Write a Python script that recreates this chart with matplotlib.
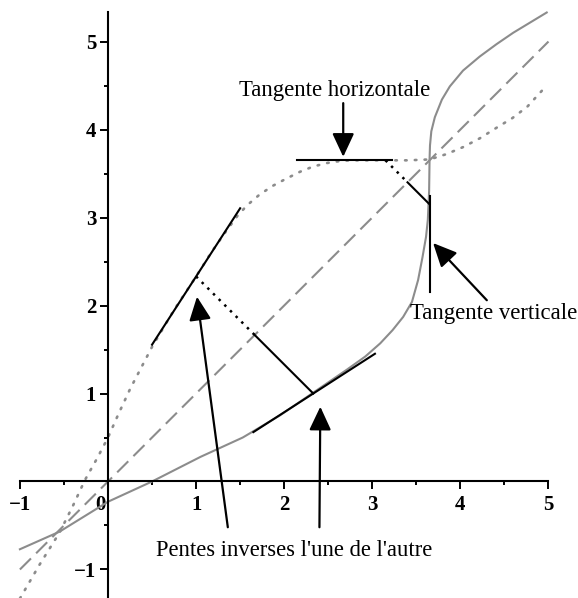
import numpy as np
import matplotlib
matplotlib.use("Agg")
import matplotlib.pyplot as plt
from matplotlib.transforms import ScaledTranslation

plt.rcParams['font.family'] = ['Liberation Serif', 'DejaVu Serif']

# f (dotted curve)
f_x = [-1.0, -0.78, -0.55, -0.4, -0.26, -0.12, 0.0, 0.12, 0.25, 0.38, 0.5, 0.75, 1.0,
       1.17, 1.33, 1.47, 1.58, 1.72, 1.87, 2.02, 2.18, 2.33, 2.49, 2.62, 2.75, 2.95,
       3.15, 3.4, 3.65, 3.84, 4.03, 4.22, 4.41, 4.59, 4.76, 4.97]
f_y = [-1.33, -0.95, -0.58, -0.28, 0.02, 0.27, 0.5, 0.77, 1.05, 1.3, 1.53, 1.95, 2.33,
       2.6, 2.83, 3.02, 3.14, 3.26, 3.36, 3.44, 3.52, 3.58, 3.62, 3.64, 3.65, 3.65,
       3.65, 3.65, 3.66, 3.72, 3.8, 3.9, 4.02, 4.13, 4.26, 4.49]

# f^-1 (solid curve)
g_x = [-1.0, -0.55, 0.0, 0.5, 1.05, 1.53, 1.95, 2.33, 2.71, 2.92, 3.09, 3.23, 3.35,
       3.45, 3.52, 3.57, 3.61, 3.63, 3.645, 3.65, 3.655, 3.67, 3.71, 3.79, 3.88,
       4.03, 4.22, 4.41, 4.6, 4.98]
g_y = [-0.77, -0.57, -0.23, 0.0, 0.28, 0.5, 0.75, 1.01, 1.27, 1.42, 1.57, 1.72, 1.87,
       2.04, 2.29, 2.55, 2.78, 2.97, 3.3, 3.66, 3.82, 3.98, 4.14, 4.34, 4.49,
       4.67, 4.83, 4.97, 5.1, 5.33]

diag = [-1, 5]

# tangent points on f, slopes and drawn extents
tan_pt = [(1.0, 2.33), (3.15, 3.65)]
tan_slope = [1.55, 0.0]
tan_span_f = [(0.5, 1.5), (2.15, 3.22)]      # x-range of tangent on f
tan_span_g = [(1.65, 3.03), (2.15, 3.24)]    # x-range (y-range if vertical) on f^-1

x_major = [-1, 0, 1, 2, 3, 4, 5]
x_minor = [-0.5, 0.5, 1.5, 2.5, 3.5, 4.5]
y_major = [-1, 1, 2, 3, 4, 5]
y_minor = [-0.5, 0.5, 1.5, 2.5, 3.5, 4.5]
x_labels = ['\u22121', '0', '1', '2', '3', '4', '5']
y_labels = ['\u22121', '1', '2', '3', '4', '5']

GRAY = '#8c8c8c'

fig = plt.figure(figsize=(5.78, 5.98), dpi=100)
ax = fig.add_axes([0, 0, 1, 1])
ax.set_xlim(-1.226, 5.335)
ax.set_ylim(-1.324, 5.472)

# curves
ax.plot(f_x, f_y, color=GRAY, lw=1.9, linestyle=(0, (0.6, 3.1)), dash_capstyle='round')
ax.plot(g_x, g_y, color=GRAY, lw=1.5, solid_joinstyle='round')
ax.plot(diag, diag, color=GRAY, lw=1.5, linestyle=(0, (7.5, 3.5)))

# tangents and perpendiculars
for (a, b), m, sf, sg in zip(tan_pt, tan_slope, tan_span_f, tan_span_g):
    xs = np.array(sf)
    ax.plot(xs, b + m * (xs - a), color='black', lw=1.5)
    if m == 0:
        ys = np.array(sg)
        ax.plot([b, b], ys, color='black', lw=1.5)
    else:
        xs = np.array(sg)
        ax.plot(xs, a + (xs - b) / m, color='black', lw=1.5)
    mid = (a + b) / 2
    ax.plot([a, mid], [b, mid], color='black', lw=1.8, linestyle=(0, (1, 2.2)))
    ax.plot([mid, b], [mid, a], color='black', lw=1.5)

# axes through origin
for side in ['top', 'right']:
    ax.spines[side].set_visible(False)
ax.spines['left'].set_position(('data', 0))
ax.spines['bottom'].set_position(('data', 0))
ax.spines['left'].set_bounds(-1.324, 5.33)
ax.spines['bottom'].set_bounds(-1, 5)
for side in ['left', 'bottom']:
    ax.spines[side].set_linewidth(1.5)
ax.set_xticks(x_major)
ax.set_xticks(x_minor, minor=True)
ax.set_yticks(y_major)
ax.set_yticks(y_minor, minor=True)
ax.set_xticklabels(x_labels)
ax.set_yticklabels(y_labels)
ax.tick_params(which='major', direction='out', length=5.5, width=1.4,
               labelsize=15, pad=3)
ax.tick_params(axis='x', which='major', pad=4.5)
ax.tick_params(which='minor', direction='out', length=3, width=1.4)
for lbl in ax.get_xticklabels() + ax.get_yticklabels():
    lbl.set_fontweight('bold')
zero_lbl = ax.get_xticklabels()[1]
zero_lbl.set_transform(zero_lbl.get_transform()
                       + ScaledTranslation(-8 / 100, 0, fig.dpi_scale_trans))

# annotations
arrow = dict(arrowstyle='-|>,head_length=0.9,head_width=0.42', color='black',
             lw=1.6, shrinkA=0, shrinkB=0, mutation_scale=16)
ax.annotate('', xy=(2.67, 3.69), xytext=(2.67, 4.3), arrowprops=arrow)
ax.text(2.57, 4.44, 'Tangente horizontale', fontsize=16.4, ha='center', va='center')

ax.annotate('', xy=(3.69, 2.71), xytext=(4.3, 2.06), arrowprops=arrow)
ax.text(3.43, 1.91, 'Tangente verticale', fontsize=16.4, ha='left', va='center')

ax.annotate('', xy=(1.01, 2.1), xytext=(1.36, -0.52), arrowprops=arrow)
ax.annotate('', xy=(2.41, 0.85), xytext=(2.40, -0.52), arrowprops=arrow)
ax.text(2.11, -0.78, "Pentes inverses l'une de l'autre", fontsize=16.3,
        ha='center', va='center')

fig.savefig('out.png', dpi=100)
